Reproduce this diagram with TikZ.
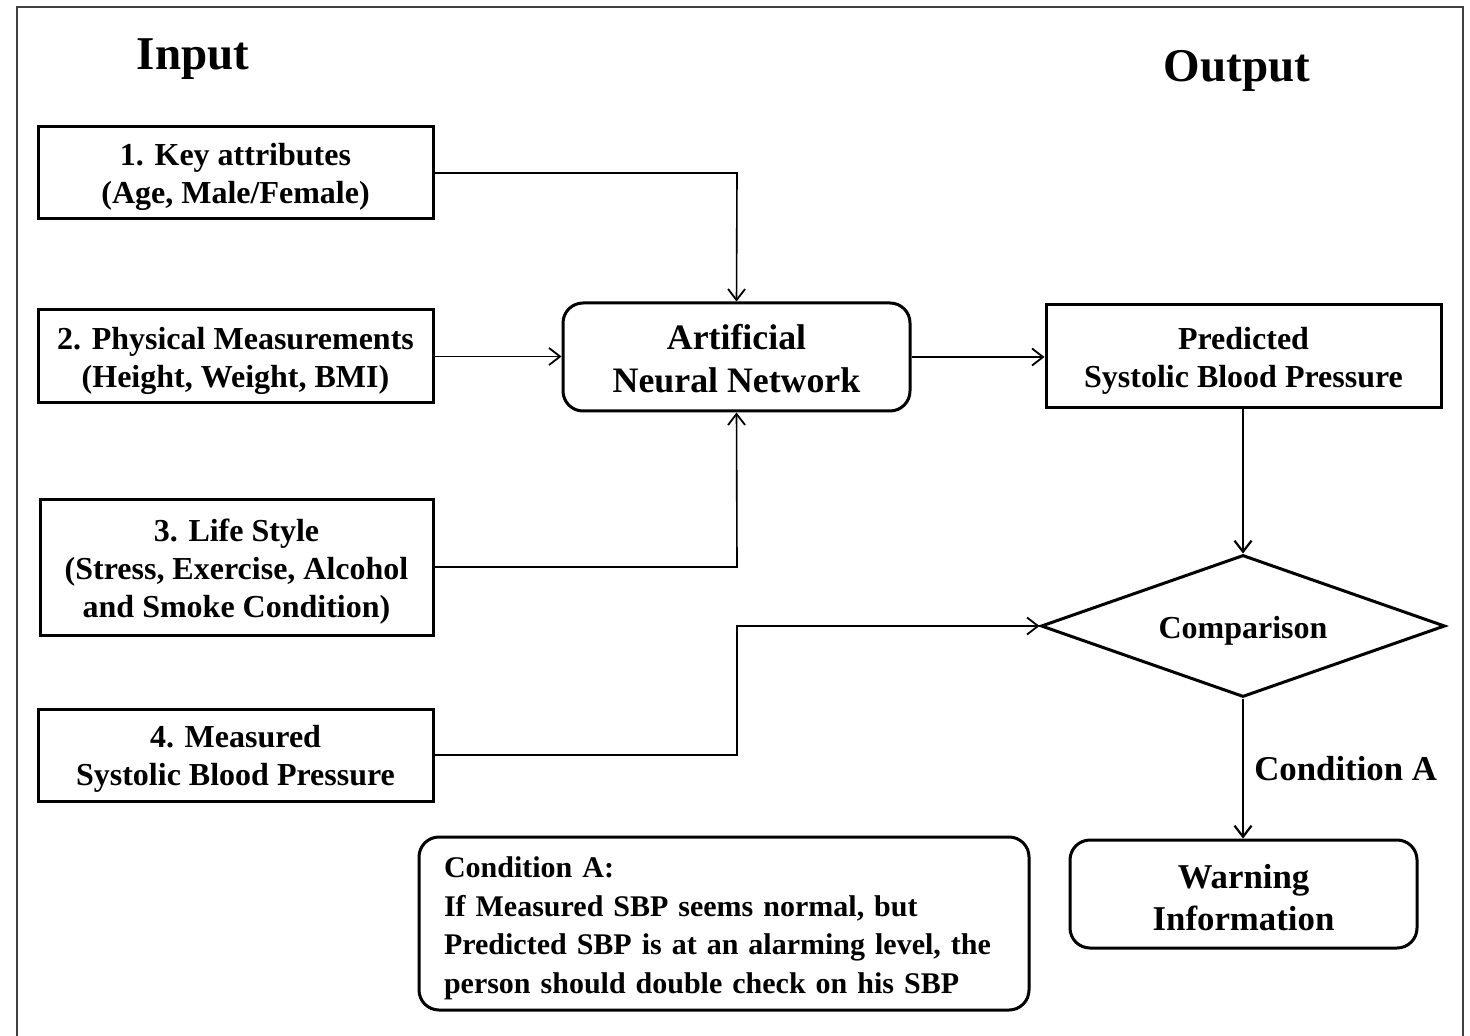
\documentclass[tikz,border=0pt]{standalone}
\usepackage{fontspec}
\setmainfont{Liberation Serif}
\usetikzlibrary{shapes.geometric,arrows.meta}
\newcommand\padtop[1][0.95em]{\rule{0pt}{#1}}
\begin{document}
\begin{tikzpicture}[x=0.5pt,y=-0.5pt,
  every node/.style={font=\bfseries\fontsize{16}{19}\selectfont, inner sep=0pt},
  inbox/.style={draw, line width=1.5pt, minimum width=197.5pt, align=center},
  roundbox/.style={draw, line width=1.5pt, rounded corners=10pt, align=center},
  conn/.style={line width=0.8pt, -{Straight Barb[length=5.5pt,width=8.5pt,line width=0.9pt]}},
  thickconn/.style={line width=1.3pt, -{Straight Barb[length=5.5pt,width=8.5pt,line width=1.1pt]}},
  title/.style={font=\bfseries\fontsize{23.5}{28}\selectfont}
]
\useasboundingbox (0,0) rectangle (1470,1036);
\fill[white] (0,0) rectangle (1470,1036);
% frame (open at the bottom)
\draw[line width=1pt, black!75] (17,1036) -- (17,7) -- (1463,7) -- (1463,1036);

\node[title] (input) at (193,59) {Input};
\node[title] (output) at (1237,71) {Output};

\node[inbox, minimum height=46pt] (b1) at (235.5,173) {\padtop 1. Key attributes\\(Age, Male/Female)};
\node[inbox, minimum height=46.5pt] (b2) at (235.5,356.5) {\padtop 2. Physical Measurements\\(Height, Weight, BMI)};
\node[inbox, minimum width=196.5pt, minimum height=67.5pt] (b3) at (236.5,567.5) {\padtop 3. Life Style\\(Stress, Exercise, Alcohol\\and Smoke Condition)};
\node[inbox, minimum height=46pt] (b4) at (235.5,755) {\padtop 4. Measured\\Systolic Blood Pressure};

\node[roundbox, minimum width=173.5pt, minimum height=54pt, font=\bfseries\fontsize{17.9}{21.5}\selectfont] (ann) at (736.5,357) {\padtop[0.82em]Artificial\\Neural Network};

\node[inbox, minimum height=51.5pt] (pred) at (1243.5,356.5) {\padtop Predicted\\Systolic Blood Pressure};

\node[diamond, draw, line width=1.5pt, aspect=2.85, minimum width=202pt, minimum height=71pt] (cmp) at (1243,626) {\padtop[1em]Comparison};

\node[roundbox, minimum width=173.5pt, minimum height=54pt, font=\bfseries\fontsize{17.4}{21}\selectfont] (warn) at (1243.5,894) {\padtop[0.9em]Warning\\Information};

\node[roundbox, inner xsep=12.5pt, text width=280pt, minimum height=86.5pt, align=left, font=\bfseries\fontsize{15}{19.3}\selectfont] (cond) at (724,923.5) {\padtop[1em]Condition A:\\If Measured SBP seems normal, but\\Predicted SBP is at an alarming level, the\\person should double check on his SBP};

\coordinate (j1) at (737,173);
\coordinate (j3) at (737,567);
\coordinate (j4a) at (737,755);
\coordinate (j4b) at (737,626);

\draw[conn] (b1.east |- j1) -- (j1) -- (ann.north);
\draw[conn] (b2.east) -- (ann.west |- b2.east);
\draw[conn] (b3.east |- j3) -- (j3) -- (ann.south);
\draw[conn] (b4.east |- j4a) -- (j4a) -- (j4b) -- (cmp.west);
\draw[conn] (ann.east) -- (pred.west |- ann.east);
\draw[thickconn] (pred.south -| cmp.north) -- (cmp.north);
\draw[thickconn] (cmp.south) -- node[right=5pt, font=\bfseries\fontsize{17.4}{21}\selectfont] (lbl) {Condition A} (warn.north -| cmp.south);
\end{tikzpicture}
\end{document}
